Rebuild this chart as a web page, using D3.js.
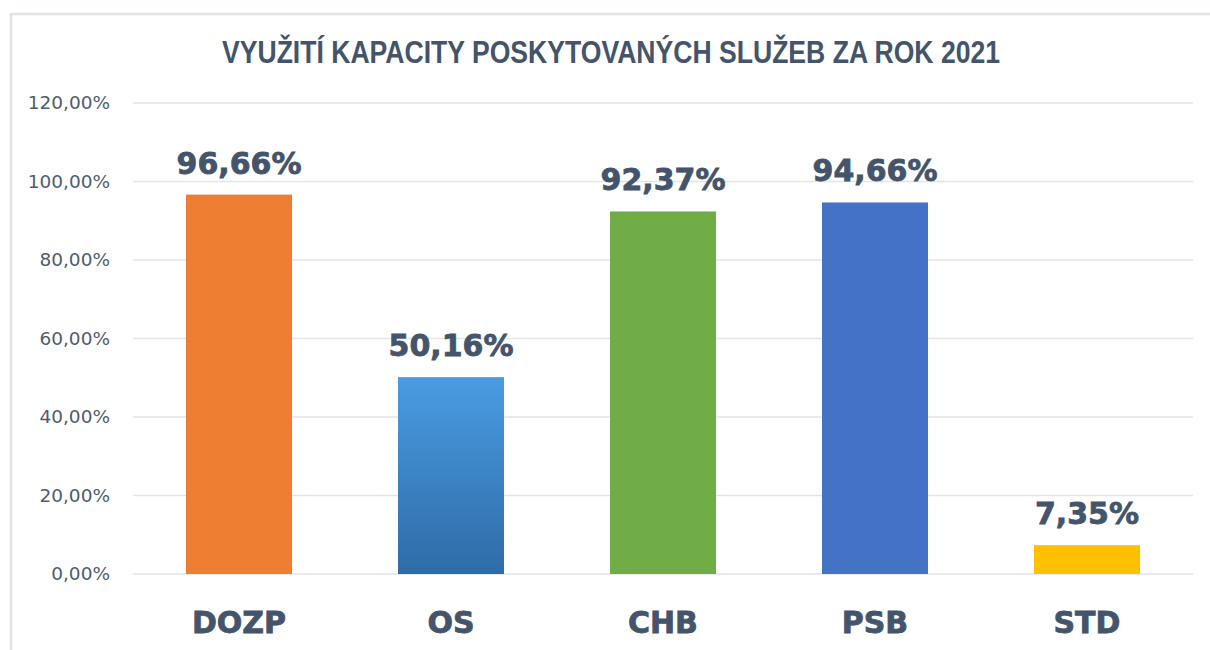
<!DOCTYPE html>
<html>
<head>
<meta charset="utf-8">
<script src="https://cdn.jsdelivr.net/npm/d3@7"></script>
<style>
  html, body { margin: 0; padding: 0; background: #fff; }
</style>
</head>
<body>
<div id="chart"></div>
<script>
var categories = ["DOZP", "OS", "CHB", "PSB", "STD"];
var values = [96.66, 50.16, 92.37, 94.66, 7.35];
var barColors = ["#ED7D31", "url(#osGrad)", "#70AD47", "#4472C4", "#FFC000"];
var yTicks = [0, 20, 40, 60, 80, 100, 120];
var title = "VYUŽITÍ KAPACITY POSKYTOVANÝCH SLUŽEB ZA ROK 2021";

var width = 1210, height = 650;
var plotLeft = 133, plotRight = 1193, plotTop = 103, plotBottom = 574;

var svg = d3.select("#chart").append("svg")
  .attr("width", width)
  .attr("height", height);

var defs = svg.append("defs");
var grad = defs.append("linearGradient")
  .attr("id", "osGrad")
  .attr("x1", 0).attr("y1", 0).attr("x2", 0).attr("y2", 1);
grad.append("stop").attr("offset", "0%").attr("stop-color", "#4A9BE3");
grad.append("stop").attr("offset", "100%").attr("stop-color", "#2E6CA6");

// frame
svg.append("path")
  .attr("d", "M11,650 V14 H1210")
  .attr("fill", "none")
  .attr("stroke", "#DEE3EA")
  .attr("stroke-width", 2.5);

var fmt = function(v) { return d3.format(".2f")(v).replace(".", ",") + "%"; };

var x = d3.scaleBand()
  .domain(categories)
  .range([plotLeft, plotRight])
  .paddingInner(0.5)
  .paddingOuter(0.25);

var y = d3.scaleLinear()
  .domain([0, 120])
  .range([plotBottom, plotTop]);

// grid
svg.append("g").selectAll("line")
  .data(yTicks)
  .enter().append("line")
  .attr("x1", plotLeft).attr("x2", plotRight)
  .attr("y1", function(d) { return y(d); })
  .attr("y2", function(d) { return y(d); })
  .attr("stroke", "#E1E5EB")
  .attr("stroke-width", 1.5);

// y labels
svg.append("g").selectAll("text")
  .data(yTicks)
  .enter().append("text")
  .attr("x", 110)
  .attr("y", function(d) { return y(d) + 6; })
  .attr("text-anchor", "end")
  .attr("font-family", "'DejaVu Sans', sans-serif")
  .attr("font-size", "18.5px")
  .attr("fill", "#4F5D70")
  .text(function(d) { return fmt(d); });

// bars
var data = categories.map(function(c, i) { return { cat: c, val: values[i], color: barColors[i] }; });

svg.append("g").selectAll("rect")
  .data(data)
  .enter().append("rect")
  .attr("x", function(d) { return x(d.cat); })
  .attr("width", x.bandwidth())
  .attr("y", function(d) { return y(d.val); })
  .attr("height", function(d) { return plotBottom - y(d.val); })
  .attr("fill", function(d) { return d.color; });

// value labels
svg.append("g").selectAll("text")
  .data(data)
  .enter().append("text")
  .attr("x", function(d) { return x(d.cat) + x.bandwidth() / 2; })
  .attr("y", function(d) { return y(d.val) - 21; })
  .attr("text-anchor", "middle")
  .attr("font-family", "'DejaVu Sans', sans-serif")
  .attr("font-weight", "bold")
  .attr("font-size", "30px")
  .attr("fill", "#44546A")
  .attr("stroke", "#44546A")
  .attr("stroke-width", 0.8)
  .text(function(d) { return fmt(d.val); });

// category labels
svg.append("g").selectAll("text")
  .data(categories)
  .enter().append("text")
  .attr("x", function(d) { return x(d) + x.bandwidth() / 2; })
  .attr("y", 633)
  .attr("text-anchor", "middle")
  .attr("font-family", "'DejaVu Sans', sans-serif")
  .attr("font-weight", "bold")
  .attr("font-size", "30px")
  .attr("fill", "#44546A")
  .attr("stroke", "#44546A")
  .attr("stroke-width", 0.8)
  .text(function(d) { return d; });

// title
svg.append("text")
  .attr("x", 611)
  .attr("y", 63)
  .attr("text-anchor", "middle")
  .attr("font-family", "'Liberation Sans Narrow', 'Liberation Sans', sans-serif")
  .attr("font-weight", "bold")
  .attr("font-size", "32px")
  .attr("textLength", 778)
  .attr("lengthAdjust", "spacingAndGlyphs")
  .attr("fill", "#44546A")
  .text(title);
</script>
</body>
</html>
